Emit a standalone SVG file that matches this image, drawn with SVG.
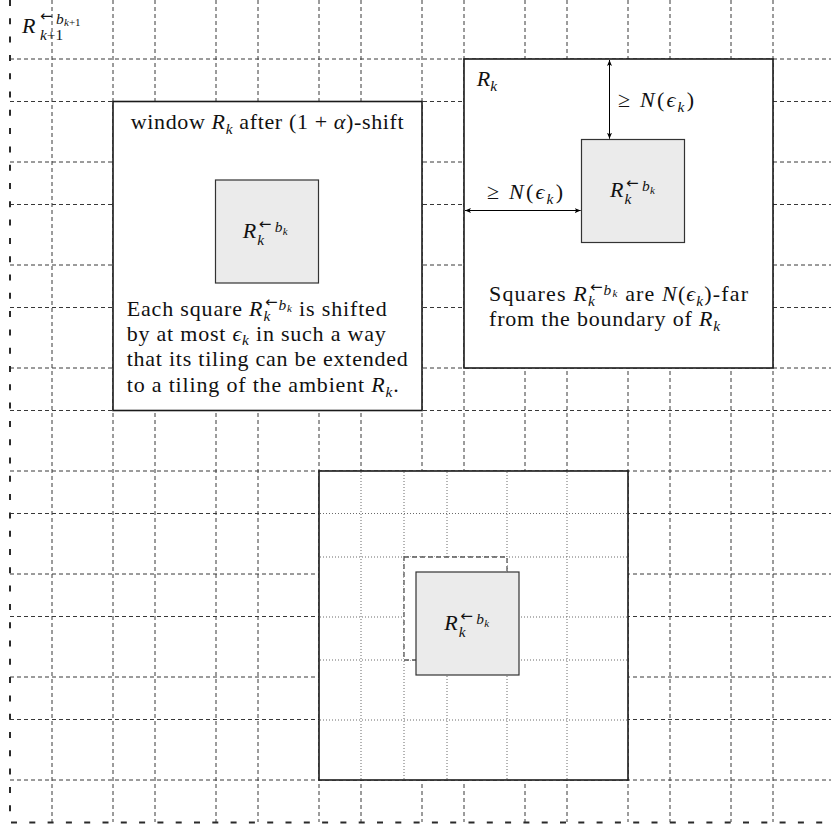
<svg xmlns="http://www.w3.org/2000/svg" width="831" height="830" viewBox="0 0 831 830">
<style>
.grid{fill:none;stroke:#383838;stroke-width:1;stroke-dasharray:4 3}
.border{fill:none;stroke:#2a2a2a;stroke-width:2;stroke-dasharray:6 12.3}
.box{fill:#fff;stroke:#1a1a1a;stroke-width:1.6}
.sq{fill:#ebebeb;stroke:#333;stroke-width:1.2}
.dot{fill:none;stroke:#6a6a6a;stroke-width:1;stroke-dasharray:1 2}
.dsq{fill:#fff;stroke:#555;stroke-width:1.3;stroke-dasharray:5 3}
.arr{fill:none;stroke:#000;stroke-width:1}
.tx{font-family:"Liberation Serif","DejaVu Serif",serif;font-size:22px;fill:#111}
.it{font-style:italic}
.sb{font-size:15.4px}
.ss{font-size:11px}
.ar{font-family:"DejaVu Sans",sans-serif;font-size:15px;font-style:normal}
</style>
<defs>
<marker id="ah" viewBox="0 0 10 10" refX="10" refY="5" markerUnits="userSpaceOnUse" markerWidth="6" markerHeight="5" orient="auto-start-reverse" preserveAspectRatio="none">
<path d="M0,0 L10,5 L0,10 L2.5,5 z" fill="#000"/>
</marker>
</defs>
<rect width="831" height="830" fill="#fff"/>
<g id="grid">
<path class="grid" d="M52 0V822M113 0V822M155 0V822M216 0V822M258 0V822M319 0V822M361 0V822M422 0V822M464 0V822M525 0V822M567 0V822M628 0V822M670 0V822M731 0V822M773 0V822"/>
<path class="grid" d="M10 59H831M10 101.5H831M10 162H831M10 204.5H831M10 265H831M10 307.5H831M10 368H831M10 410.5H831M10 471H831M10 513.5H831M10 574H831M10 616.5H831M10 677H831M10 719.5H831M10 780H831"/>
<path class="border" d="M10 0V822.5H831"/>
<text class="tx"><tspan class="it" x="22" y="33.3">R</tspan><tspan class="sb" x="40" y="40"><tspan class="it">k</tspan>+1</tspan><tspan class="ar" x="40" y="21">←</tspan><tspan class="it sb" x="56" y="23.5">b</tspan><tspan class="ss" x="64" y="26"><tspan class="it">k</tspan>+1</tspan></text>
</g>
<g id="window">
<rect class="box" x="113" y="101.5" width="309" height="309"/>
<text class="tx" x="130.7" y="129" textLength="273" lengthAdjust="spacing">window <tspan class="it">R</tspan><tspan class="it sb" dy="5">k</tspan><tspan dy="-5"> after (1 + </tspan><tspan class="it">α</tspan><tspan>)-shift</tspan></text>
<rect class="sq" x="215.5" y="180" width="103" height="103"/>
<text class="tx"><tspan class="it" x="242.7" y="238.3">R</tspan><tspan class="it sb" x="257.2" y="245.3">k</tspan><tspan class="ar" x="258.7" y="229.3">←</tspan><tspan class="it sb" x="274.7" y="232.3">b</tspan><tspan class="it ss" x="282.7" y="234.8">k</tspan></text>
<text class="tx" x="126.7" y="315.7" textLength="260" lengthAdjust="spacing">Each square <tspan class="it">R</tspan><tspan class="it sb" dy="5">k</tspan><tspan class="ar" dx="-6" dy="-14">←</tspan><tspan class="it sb" dy="3">b</tspan><tspan class="it ss" dy="2.5">k</tspan><tspan dy="3.5"> is shifted</tspan></text>
<text class="tx" x="126.7" y="341" textLength="259" lengthAdjust="spacing">by at most <tspan class="it">ϵ</tspan><tspan class="it sb" dy="4">k</tspan><tspan dy="-4"> in such a way</tspan></text>
<text class="tx" x="126.7" y="366.3" textLength="281" lengthAdjust="spacing">that its tiling can be extended</text>
<text class="tx" x="126.7" y="391.7" textLength="272" lengthAdjust="spacing">to a tiling of the ambient <tspan class="it">R</tspan><tspan class="it sb" dy="5">k</tspan><tspan dy="-5">.</tspan></text>
</g>
<g id="rk">
<rect class="box" x="464" y="59" width="309" height="309"/>
<text class="tx" x="476.7" y="86"><tspan class="it">R</tspan><tspan class="it sb" dy="5">k</tspan></text>
<rect class="sq" x="581.5" y="139.5" width="103" height="103"/>
<text class="tx"><tspan class="it" x="610" y="197">R</tspan><tspan class="it sb" x="624.5" y="204">k</tspan><tspan class="ar" x="626" y="188">←</tspan><tspan class="it sb" x="642" y="191">b</tspan><tspan class="it ss" x="650" y="193.5">k</tspan></text>
<text class="tx" x="618" y="107" textLength="76" lengthAdjust="spacing">≥ <tspan class="it">N</tspan>(<tspan class="it">ϵ</tspan><tspan class="it sb" dy="5">k</tspan><tspan dy="-5">)</tspan></text>
<text class="tx" x="487" y="199" textLength="76" lengthAdjust="spacing">≥ <tspan class="it">N</tspan>(<tspan class="it">ϵ</tspan><tspan class="it sb" dy="5">k</tspan><tspan dy="-5">)</tspan></text>
<text class="tx" x="489" y="300.5" textLength="259" lengthAdjust="spacing">Squares <tspan class="it">R</tspan><tspan class="it sb" dy="5">k</tspan><tspan class="ar" dx="-6" dy="-14">←</tspan><tspan class="it sb" dy="3">b</tspan><tspan class="it ss" dy="2.5">k</tspan><tspan dy="3.5"> are </tspan><tspan class="it">N</tspan><tspan>(</tspan><tspan class="it">ϵ</tspan><tspan class="it sb" dy="5">k</tspan><tspan dy="-5">)-far</tspan></text>
<text class="tx" x="489" y="326" textLength="231" lengthAdjust="spacing">from the boundary of <tspan class="it">R</tspan><tspan class="it sb" dy="5">k</tspan></text>
</g>
<g id="shifted">
<rect class="box" x="319" y="471" width="309" height="309"/>
<path class="dot" d="M361 472V779M404 472V779M447 472V779M507 472V779M567 472V779M320 513.5H627M320 557H627M320 617H627M320 660H627M320 720H627"/>
<rect class="dsq" x="404" y="557" width="103" height="103"/>
<rect class="sq" x="416" y="572" width="103" height="103"/>
<text class="tx"><tspan class="it" x="444.3" y="630">R</tspan><tspan class="it sb" x="458.8" y="637">k</tspan><tspan class="ar" x="460.3" y="621">←</tspan><tspan class="it sb" x="476.3" y="624">b</tspan><tspan class="it ss" x="484.3" y="626.5">k</tspan></text>
</g>
<g id="connectors">
<line class="arr" x1="609.5" y1="60" x2="609.5" y2="138.7" marker-start="url(#ah)" marker-end="url(#ah)"/>
<line class="arr" x1="465" y1="210.5" x2="580.7" y2="210.5" marker-start="url(#ah)" marker-end="url(#ah)"/>
</g>
</svg>
